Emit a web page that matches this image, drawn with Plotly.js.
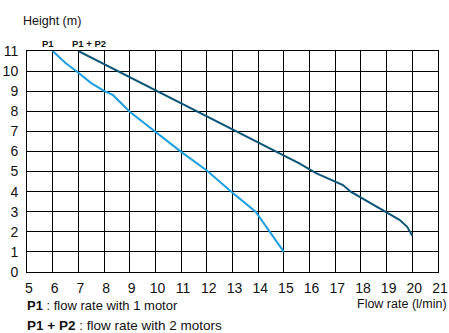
<!DOCTYPE html>
<html>
<head>
<meta charset="utf-8">
<script src="https://cdn.plot.ly/plotly-3.0.1.min.js"></script>
<style>html,body{margin:0;padding:0;background:#fff;}#chart{width:449px;height:333px;}</style>
</head>
<body>
<div id="chart"></div>
<script>
// Data
const p1Flow   = [6, 6.5, 7, 7.5, 8, 8.35, 9, 10, 11, 12, 12.7, 13, 13.9, 15];
const p1Height = [11, 10.4, 9.92, 9.4, 9.02, 8.8, 7.98, 7.0, 5.98, 5.05, 4.25, 3.95, 3.0, 1.0];
const p12Flow   = [7, 10, 12.7, 15.6, 16.25, 17.3, 17.6, 19, 19.5, 19.8, 20];
const p12Height = [11, 9.05, 7.32, 5.41, 4.92, 4.33, 4.0, 3.0, 2.6, 2.25, 1.8];
const xTicks = [5,6,7,8,9,10,11,12,13,14,15,16,17,18,19,20,21];
const yTicks = [0,1,2,3,4,5,6,7,8,9,10,11];

const FONT = '"Liberation Sans", Arial, sans-serif';
const W = 449, H = 333, L = 27, R = 11, T = 51, B = 61;
const pw = W - L - R, ph = H - T - B;
const px = v => (v - L) / pw;
const py = v => (H - B - v) / ph;

const traces = [
  {x: p1Flow, y: p1Height, mode: 'lines', line: {color: '#1c9fe0', width: 2}, hoverinfo: 'skip'},
  {x: p12Flow, y: p12Height, mode: 'lines', line: {color: '#0b5678', width: 2}, hoverinfo: 'skip'}
];

const axisCommon = {
  showgrid: true, gridcolor: '#000', gridwidth: 1,
  showline: true, linecolor: '#000', linewidth: 1, mirror: true,
  zeroline: false, ticks: '', fixedrange: true,
  tickfont: {family: FONT, size: 14, color: '#111'}
};

const layout = {
  width: W, height: H,
  margin: {l: L, r: R, t: T, b: B, pad: 0},
  paper_bgcolor: '#fff', plot_bgcolor: '#fff',
  showlegend: false,
  xaxis: Object.assign({}, axisCommon, {range: [5, 21], tickvals: xTicks, ticktext: xTicks.map(String), ticklabelstandoff: 3, ticklabelshift: 2}),
  yaxis: Object.assign({}, axisCommon, {range: [0, 11], tickvals: yTicks, ticktext: yTicks.map(String), ticklabelstandoff: 5}),
  annotations: [
    {text: 'Height (m)', xref: 'paper', yref: 'paper', x: px(21), y: py(21), xanchor: 'left', yanchor: 'middle', showarrow: false, font: {family: FONT, size: 12.5, color: '#111'}},
    {text: '<b>P1</b>', xref: 'paper', yref: 'paper', x: px(48), y: py(44), xanchor: 'center', yanchor: 'middle', showarrow: false, font: {family: FONT, size: 9.5, color: '#111'}},
    {text: '<b>P1 + P2</b>', xref: 'paper', yref: 'paper', x: px(70), y: py(44), xanchor: 'left', yanchor: 'middle', showarrow: false, font: {family: FONT, size: 9.5, color: '#111'}},
    {text: 'Flow rate (l/min)', xref: 'paper', yref: 'paper', x: px(449), y: py(304), xanchor: 'right', yanchor: 'middle', showarrow: false, font: {family: FONT, size: 12.5, color: '#111'}},
    {text: '<b>P1</b> : flow rate with 1 motor', xref: 'paper', yref: 'paper', x: px(25), y: py(305), xanchor: 'left', yanchor: 'middle', showarrow: false, font: {family: FONT, size: 13, color: '#111'}},
    {text: '<b>P1 + P2</b> : flow rate with 2 motors', xref: 'paper', yref: 'paper', x: px(25), y: py(325), xanchor: 'left', yanchor: 'middle', showarrow: false, font: {family: FONT, size: 13.5, color: '#111'}}
  ]
};

Plotly.newPlot('chart', traces, layout, {staticPlot: true, displayModeBar: false});
</script>
</body>
</html>
